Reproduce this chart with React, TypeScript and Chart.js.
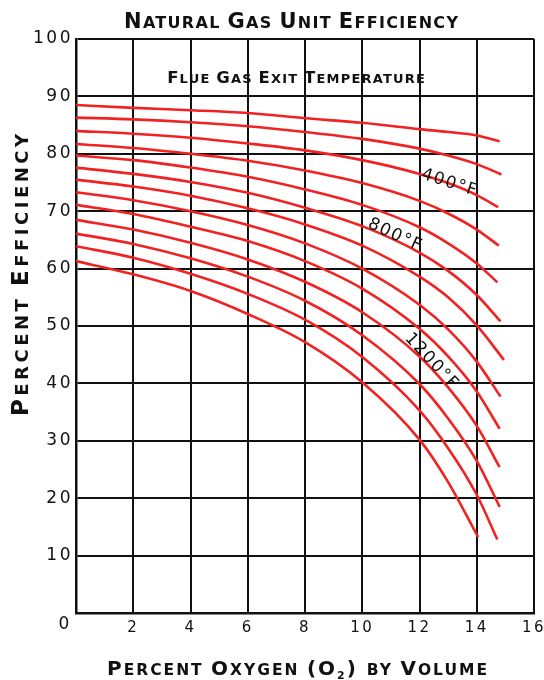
import React, { useEffect, useRef } from 'react';
import { Chart, registerables } from 'chart.js';

Chart.register(...registerables);

// Percent O2 positions at which the curves were read
const O2_POINTS = [0, 2, 4, 6, 8, 10, 12, 13, 14];
// where each curve stops (percent O2) and its final efficiency
const END_O2 = [14.8, 14.86, 14.75, 14.77, 14.72, 14.83, 14.95, 14.83, 14.8, 14.8, 14.8, 14.72, 14.05];
const END_EFF = [82.2, 76.4, 70.7, 64.0, 57.6, 50.8, 44.1, 37.7, 32.1, 25.4, 18.5, 12.8, 13.2];

// efficiency (%) of each flue-gas temperature curve at O2_POINTS
const CURVE_01 = [88.5, 88.0, 87.6, 87.1, 86.2, 85.4, 84.3, 83.8, 83.2];
const CURVE_02 = [86.3, 86.0, 85.5, 84.8, 83.8, 82.6, 80.9, 79.7, 78.2];
const CURVE_03 = [84.0, 83.5, 82.8, 81.8, 80.6, 78.9, 76.5, 74.9, 72.8];
const CURVE_04 = [81.7, 81.0, 80.0, 78.8, 77.1, 74.9, 71.8, 69.6, 66.8];
const CURVE_05 = [79.7, 78.9, 77.6, 76.0, 73.8, 71.1, 67.2, 64.4, 60.9];
const CURVE_06 = [77.6, 76.5, 75.1, 73.2, 70.6, 67.4, 62.8, 59.6, 55.4];
const CURVE_07 = [75.5, 74.3, 72.7, 70.5, 67.7, 64.0, 58.6, 55.0, 50.1];
const CURVE_08 = [73.3, 71.9, 70.0, 67.6, 64.4, 60.0, 53.7, 49.4, 43.8];
const CURVE_09 = [71.1, 69.5, 67.3, 64.8, 61.3, 56.5, 49.5, 44.7, 38.6];
const CURVE_10 = [68.5, 66.8, 64.5, 61.6, 57.7, 52.4, 44.7, 39.3, 32.6];
const CURVE_11 = [66.1, 64.3, 61.8, 58.6, 54.4, 48.4, 39.9, 33.9, 26.5];
const CURVE_12 = [63.9, 61.9, 59.1, 55.6, 51.1, 44.6, 35.3, 28.7, 20.6];
const CURVE_13 = [61.3, 59.0, 56.1, 52.1, 47.2, 40.2, 30.2, 22.8, null];

const CURVES = [
  CURVE_01, CURVE_02, CURVE_03, CURVE_04, CURVE_05, CURVE_06, CURVE_07,
  CURVE_08, CURVE_09, CURVE_10, CURVE_11, CURVE_12, CURVE_13,
];

// curve labels: text, O2 position, efficiency position, rotation (deg)
const LABEL_TEXT = ['400°F', '800°F', '1200°F'];
const LABEL_O2 = [13.05, 11.15, 12.42];
const LABEL_EFF = [74.9, 65.8, 43.8];
const LABEL_ANGLE = [18, 25, 47];

const Y_TICK_STEP = 10;
const X_TICK_STEP = 2;

const TITLE = 'Natural Gas Unit Efficiency';
const SUBTITLE = 'Flue Gas Exit Temperature';
const Y_TITLE = 'Percent Efficiency';

const FONT = '"DejaVu Sans", sans-serif';
const RED = 'rgb(240, 34, 34)';

type Seg = { t: string; s: number; dy?: number };

function smallCaps(text: string, big: number, small: number): Seg[] {
  const out: Seg[] = [];
  const words = text.split(' ');
  words.forEach((w, i) => {
    out.push({ t: w[0].toUpperCase(), s: big });
    const rest = w.slice(1).toUpperCase() + (i < words.length - 1 ? ' ' : '');
    if (rest) out.push({ t: rest, s: small });
  });
  return out;
}

function drawSegs(
  ctx: CanvasRenderingContext2D,
  segs: Seg[],
  cx: number,
  baseline: number,
  weight: string,
  spacing: number,
) {
  (ctx as any).letterSpacing = spacing + 'px';
  let total = 0;
  const widths = segs.map((sg) => {
    ctx.font = `${weight} ${sg.s}px ${FONT}`;
    const w = ctx.measureText(sg.t).width;
    total += w;
    return w;
  });
  total -= spacing;
  let x = cx - total / 2;
  ctx.textAlign = 'left';
  ctx.textBaseline = 'alphabetic';
  segs.forEach((sg, i) => {
    ctx.font = `${weight} ${sg.s}px ${FONT}`;
    ctx.fillText(sg.t, x, baseline + (sg.dy || 0));
    x += widths[i];
  });
  (ctx as any).letterSpacing = '0px';
}

const spacingPlugin = {
  id: 'spacingPlugin',
  beforeUpdate(chart: any) {
    chart.ctx.letterSpacing = '2.5px';
  },
  beforeDraw(chart: any) {
    chart.ctx.letterSpacing = '2.5px';
  },
};

const textPlugin = {
  id: 'textPlugin',
  afterDraw(chart: any) {
    const ctx: CanvasRenderingContext2D = chart.ctx;
    const xs = chart.scales.x;
    const ys = chart.scales.y;
    ctx.save();
    ctx.fillStyle = '#111';

    // main title
    drawSegs(ctx, smallCaps(TITLE, 21, 16), 291, 28, 'bold', 1.3);
    // inner subtitle
    drawSegs(ctx, smallCaps(SUBTITLE, 16.5, 13), 296, 83, 'bold', 1.2);

    // x-axis title with subscript
    const xt: Seg[] = [
      { t: 'P', s: 20 }, { t: 'ERCENT ', s: 15.5 },
      { t: 'O', s: 20 }, { t: 'XYGEN ', s: 15.5 },
      { t: '(O', s: 20 }, { t: '2', s: 11, dy: 4 }, { t: ') ', s: 20 },
      { t: 'BY ', s: 15.5 },
      { t: 'V', s: 20 }, { t: 'OLUME', s: 15.5 },
    ];
    drawSegs(ctx, xt, 297, 675, 'bold', 2);

    // y-axis title
    ctx.save();
    ctx.translate(28, 275);
    ctx.rotate(-Math.PI / 2);
    drawSegs(ctx, smallCaps(Y_TITLE, 23, 18), 0, 0, 'bold', 3.5);
    ctx.restore();

    // shared origin label
    ctx.font = `17px ${FONT}`;
    ctx.textAlign = 'center';
    ctx.textBaseline = 'middle';
    (ctx as any).letterSpacing = '0px';
    ctx.fillText('0', xs.getPixelForValue(0) - 12, ys.getPixelForValue(0) + 12);

    // curve labels
    ctx.font = `17px ${FONT}`;
    (ctx as any).letterSpacing = '1.5px';
    LABEL_TEXT.forEach((t, i) => {
      ctx.save();
      ctx.translate(xs.getPixelForValue(LABEL_O2[i]), ys.getPixelForValue(LABEL_EFF[i]));
      ctx.rotate((LABEL_ANGLE[i] * Math.PI) / 180);
      ctx.textAlign = 'center';
      ctx.textBaseline = 'middle';
      ctx.fillText(t, 0, 0);
      ctx.restore();
    });
    ctx.restore();
  },
};

export default function App() {
  const ref = useRef<HTMLCanvasElement | null>(null);

  useEffect(() => {
    if (!ref.current) return;
    const datasets = CURVES.map((vals, ci) => {
      const pts: { x: number; y: number }[] = [];
      vals.forEach((v, i) => {
        if (v !== null) pts.push({ x: O2_POINTS[i], y: v as number });
      });
      pts.push({ x: END_O2[ci], y: END_EFF[ci] });
      return {
        data: pts,
        borderColor: RED,
        borderWidth: 2.6,
        pointRadius: 0,
        fill: false,
        cubicInterpolationMode: 'monotone' as const,
      };
    });

    const chart = new Chart(ref.current, {
      type: 'line',
      data: { datasets },
      options: {
        animation: false,
        responsive: false,
        devicePixelRatio: 1,
        layout: { padding: { top: 39, right: 10, left: 0, bottom: 0 } },
        plugins: {
          legend: { display: false },
          tooltip: { enabled: false },
          title: { display: false },
        },
        scales: {
          x: {
            type: 'linear',
            min: 0,
            max: 16,
            ticks: {
              stepSize: X_TICK_STEP,
              color: '#111',
              font: { family: FONT, size: 15 },
              padding: 6,
              maxRotation: 0,
              callback: (v: any) => (v === 0 ? '' : String(v)),
            },
            grid: { color: '#111', lineWidth: 2, drawTicks: false },
            border: { color: '#111', width: 2.5 },
            afterFit: (s: any) => {
              s.height = 67;
              s.paddingLeft = 0;
              s.paddingRight = 0;
            },
          },
          y: {
            type: 'linear',
            min: 0,
            max: 100,
            ticks: {
              stepSize: Y_TICK_STEP,
              color: '#111',
              font: { family: FONT, size: 17 },
              padding: 3,
              callback: (v: any) => (v === 0 ? '' : String(v)),
            },
            grid: { color: '#111', lineWidth: 2, drawTicks: false },
            border: { color: '#111', width: 2.5 },
            afterFit: (s: any) => {
              s.width = 76;
            },
          },
        },
      },
      plugins: [spacingPlugin, textPlugin],
    });
    return () => chart.destroy();
  }, []);

  return (
    <div style={{ position: 'fixed', left: 0, top: 0, width: 544, height: 680, background: '#fff' }}>
      <canvas ref={ref} width={544} height={680} style={{ width: 544, height: 680 }} />
    </div>
  );
}
